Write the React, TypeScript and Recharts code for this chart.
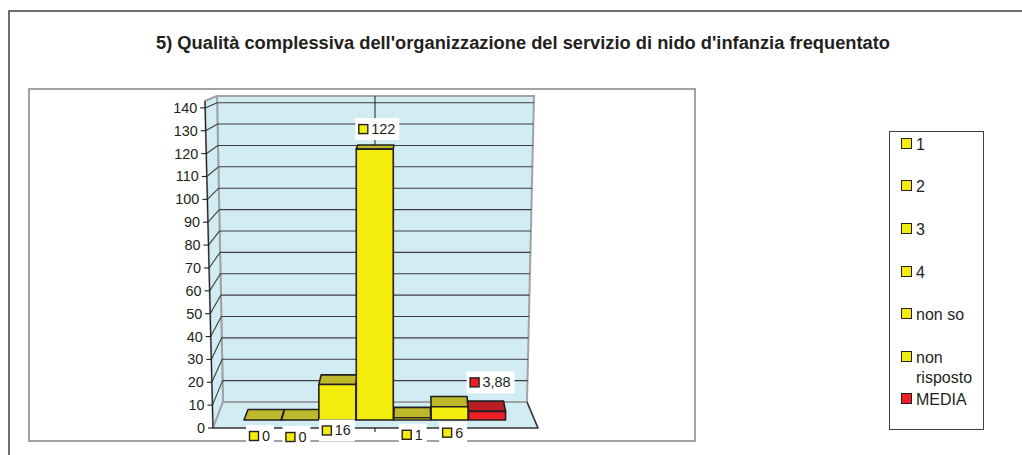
import { ComposedChart, Bar, Line, XAxis, YAxis, LabelList } from "recharts";

const categories = ["1", "2", "3", "4", "non so", "non risposto", "MEDIA"];
const values = [0, 0, 16, 122, 1, 6, 3.88];
const yTicks = [0, 10, 20, 30, 40, 50, 60, 70, 80, 90, 100, 110, 120, 130, 140];
const title = "5) Qualità complessiva dell'organizzazione del servizio di nido d'infanzia frequentato";

const YELLOW = "#f4ec0c";
const YELLOW_TOP = "#bdb92b";
const RED = "#ee2027";
const RED_TOP = "#b71f25";
const INK = "#231f20";
const WALL = "#d2ecf3";
const EDGE = "#a0a2a5";
const FONT = "'Liberation Sans', Arial, sans-serif";

const data = categories.map((name, i) => ({ name, value: values[i] }));

// where each white data label sits relative to its bar (x, top of bar)
const labelOffsets = [
  [2, 5], [1, 6], [0, 35], [-1, -31], [5, 6], [8, 15], [-2, -40],
];

const isMedia = (i: number) => categories[i] === "MEDIA";

// the front axis leans a little, back wall is a trapezoid
const axisX = (y: number) => 205 + ((y - 102) / 326) * 8;
const wallLeft = (y: number) => 217 + ((y - 96) / 306) * 6;
const wallRight = (y: number) => 534 - ((y - 96) / 306) * 7;
const frontY = (v: number) => 428 - v * 2.286;
const backY = (v: number) => 402 - v * 2.138;

// page frames and the 3D room, drawn in an svg underneath the chart
const Walls = () => (
  <svg width={1022} height={455} style={{ position: "absolute", left: 0, top: 0 }}>
    <rect x={9} y={11} width={1100} height={500} fill="#fff" stroke="#404041" strokeWidth={1.5} />
    <rect x={29} y={89} width={666} height={352} fill="#fff" stroke={EDGE} strokeWidth={2} />
    <text x={523} y={49} textAnchor="middle" fontFamily={FONT} fontSize={18.3} fontWeight="bold" fill={INK}>
      {title}
    </text>
    <polygon points="217,96 534,96 527,402 223,402" fill={WALL} stroke={EDGE} strokeWidth={2} />
    <polygon points="205,101 217,96 223,402 213,428" fill={WALL} stroke={EDGE} strokeWidth={2} />
    <polygon points="223,402 527,402 538,428 213,428" fill={WALL} stroke={EDGE} strokeWidth={2} />
    {yTicks.filter((v) => v > 0).map((v) => (
      <g key={v} stroke="#3c3c3e" strokeWidth={1.1}>
        <line x1={wallLeft(backY(v))} y1={backY(v)} x2={wallRight(backY(v))} y2={backY(v)} />
        <line x1={axisX(frontY(v))} y1={frontY(v)} x2={wallLeft(backY(v))} y2={backY(v)} />
      </g>
    ))}
    <line x1={375} y1={96} x2={375} y2={402} stroke={INK} strokeWidth={1} />
    <line x1={axisX(101)} y1={101} x2={axisX(428)} y2={428} stroke={INK} strokeWidth={1.1} />
    <line x1={213} y1={428} x2={538} y2={428} stroke={INK} strokeWidth={1.1} />
    <line x1={527} y1={402} x2={538} y2={428} stroke={INK} strokeWidth={1.1} />
    <line x1={375} y1={428} x2={375} y2={432} stroke={INK} strokeWidth={1.1} />
  </svg>
);

const AxisTick = ({ y, payload }: any) => {
  const x = axisX(y);
  return (
    <g>
      <line x1={x - 5} y1={y} x2={x} y2={y} stroke={INK} strokeWidth={1.1} />
      <text x={x - 8} y={y + 5} textAnchor="end" fontFamily={FONT} fontSize={14.4} fill={INK}>
        {payload.value}
      </text>
    </g>
  );
};

// fake 3D box: front face plus a top that narrows towards the eye level
const Box3D = ({ x, y, width, height, index }: any) => {
  const front = isMedia(index) ? RED : YELLOW;
  const top = isMedia(index) ? RED_TOP : YELLOW_TOP;
  const depth = 10.5 - (6.5 * height) / 271;
  const shift = (px: number) => (418 - px) * 0.023;
  const r = x + width;
  return (
    <g stroke={INK} strokeWidth={1.6} strokeLinejoin="round">
      <polygon
        points={`${x},${y} ${r},${y} ${r + shift(r)},${y - depth} ${x + shift(x)},${y - depth}`}
        fill={top}
      />
      <rect x={x} y={y} width={width} height={height} fill={front} />
    </g>
  );
};

const ValueLabel = ({ x, y, value, index }: any) => {
  const [dx, dy] = labelOffsets[index];
  const text = String(value).replace(".", ",");
  const boxW = text.replace(",", "").length * 8 + (text.includes(",") ? 4 : 0) + 20;
  const bx = x + dx;
  const by = y + dy;
  const color = isMedia(index) ? RED : YELLOW;
  return (
    <g>
      <rect x={bx} y={by} width={boxW} height={22} fill="#fff" />
      <rect x={bx + 3.5} y={by + 6.5} width={9} height={9} fill={color} stroke={INK} strokeWidth={1.4} />
      <text x={bx + 16} y={by + 16} fontFamily={FONT} fontSize={14.4} fill={INK}>
        {text}
      </text>
    </g>
  );
};

const legendY = [144, 186, 229, 272, 314, 357, 399];

const LegendBox = () => (
  <div
    style={{
      position: "absolute",
      left: 889,
      top: 131,
      width: 95,
      height: 299,
      border: "1px solid #404041",
      background: "#fff",
      boxSizing: "border-box",
    }}
  >
    {categories.map((name, i) => (
      <div key={name}>
        <div
          style={{
            position: "absolute",
            left: 11,
            top: legendY[i] - 131 - 7,
            width: 9,
            height: 9,
            background: isMedia(i) ? RED : YELLOW,
            border: `1.5px solid ${INK}`,
          }}
        />
        <div
          style={{
            position: "absolute",
            left: 26,
            top: legendY[i] - 131 - 10,
            width: 62,
            fontFamily: FONT,
            fontSize: 16,
            lineHeight: "20px",
            color: INK,
          }}
        >
          {name}
        </div>
      </div>
    ))}
  </div>
);

export default function App() {
  return (
    <div style={{ position: "absolute", left: 0, top: 0, width: 1022, height: 455, overflow: "hidden" }}>
      <Walls />
      <div style={{ position: "absolute", left: 0, top: 0 }}>
        <ComposedChart
          width={1022}
          height={455}
          data={data}
          barCategoryGap={0}
          margin={{ top: 96, right: 484, bottom: 27, left: 165 }}
        >
          <XAxis dataKey="name" hide padding={{ left: 39, right: 32 }} />
          <YAxis
            yAxisId="front"
            width={40}
            domain={[0, 145.2]}
            ticks={yTicks}
            interval={0}
            axisLine={false}
            tickLine={false}
            tick={(props: any) => <AxisTick {...props} />}
          />
          <YAxis yAxisId="bars" hide domain={[-3.6, 145.9]} />
          {/* invisible, only keeps the front axis alive */}
          <Line yAxisId="front" dataKey="value" stroke="none" dot={false} activeDot={false} isAnimationActive={false} />
          <Bar yAxisId="bars" dataKey="value" shape={<Box3D />} isAnimationActive={false}>
            <LabelList dataKey="value" content={<ValueLabel />} />
          </Bar>
        </ComposedChart>
      </div>
      <LegendBox />
    </div>
  );
}
